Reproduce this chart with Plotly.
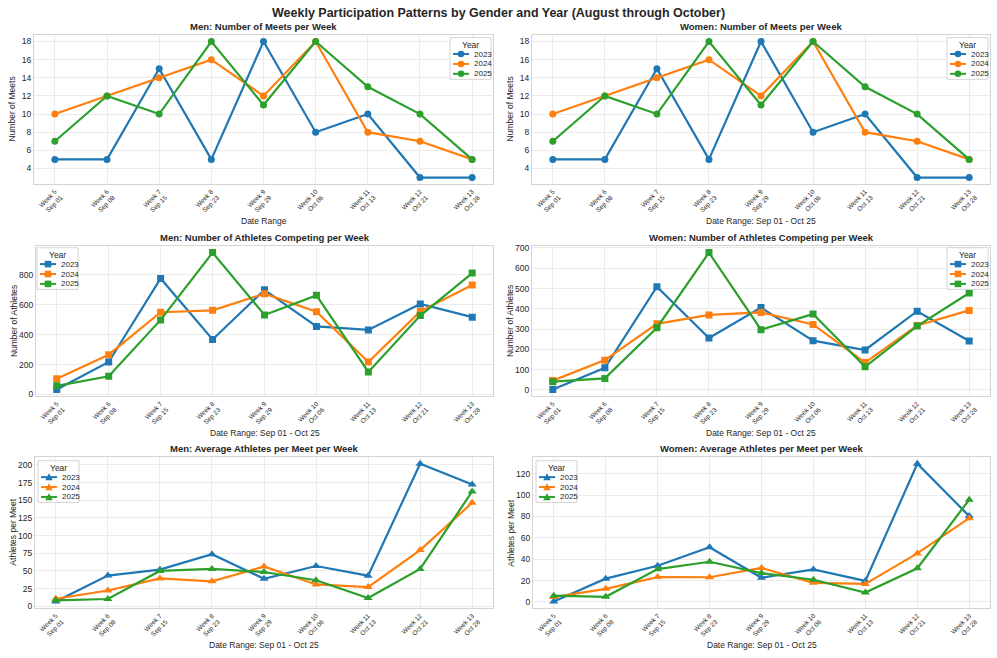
import plotly.graph_objects as go

weeks = ["Week 5<br>Sep 01", "Week 6<br>Sep 08", "Week 7<br>Sep 15", "Week 8<br>Sep 23",
         "Week 9<br>Sep 29", "Week 10<br>Oct 06", "Week 11<br>Oct 13", "Week 12<br>Oct 21",
         "Week 13<br>Oct 28"]
years = ["2023", "2024", "2025"]

men_meets_2023 = [5, 5, 15, 5, 18, 8, 10, 3, 3]
men_meets_2024 = [10, 12, 14, 16, 12, 18, 8, 7, 5]
men_meets_2025 = [7, 12, 10, 18, 11, 18, 13, 10, 5]

women_meets_2023 = [5, 5, 15, 5, 18, 8, 10, 3, 3]
women_meets_2024 = [10, 12, 14, 16, 12, 18, 8, 7, 5]
women_meets_2025 = [7, 12, 10, 18, 11, 18, 13, 10, 5]

men_athletes_2023 = [33, 217, 776, 368, 700, 455, 432, 605, 517]
men_athletes_2024 = [106, 266, 550, 563, 674, 554, 217, 556, 732]
men_athletes_2025 = [58, 122, 499, 949, 532, 663, 151, 528, 812]

women_athletes_2023 = [2, 109, 509, 256, 406, 243, 197, 388, 241]
women_athletes_2024 = [46, 147, 326, 370, 382, 323, 135, 318, 392]
women_athletes_2025 = [41, 57, 307, 677, 297, 374, 114, 315, 478]

men_avg_2023 = [6.6, 43.4, 51.7, 73.6, 38.9, 56.9, 43.2, 201.7, 172.3]
men_avg_2024 = [10.6, 22.2, 39.3, 35.2, 56.2, 30.8, 27.1, 79.4, 146.4]
men_avg_2025 = [8.3, 10.2, 49.9, 52.7, 48.4, 36.8, 11.6, 52.8, 162.4]

women_avg_2023 = [0.4, 21.8, 33.9, 51.2, 22.6, 30.4, 19.7, 129.3, 80.3]
women_avg_2024 = [4.6, 12.3, 23.3, 23.1, 31.8, 17.9, 16.9, 45.4, 78.4]
women_avg_2025 = [5.9, 4.8, 30.7, 37.6, 27.0, 20.8, 8.8, 31.5, 95.6]

colors = ["#1f77b4", "#ff7f0e", "#2ca02c"]
FONT = "Liberation Sans, Arial, sans-serif"
TXT = "#262626"
W, H = 997, 658

# panel pixel boxes: (left, right, top, bottom)
boxes = [
    (34, 493, 32, 183), (532, 990, 32, 183),
    (36, 493, 245, 397), (532, 990, 245, 397),
    (35, 493, 458, 611), (533, 990, 458, 611),
]

panels = [
    ("Men: Number of Meets per Week", [men_meets_2023, men_meets_2024, men_meets_2025],
     "circle", "Number of Meets", "Date Range", 2, (450, 35)),
    ("Women: Number of Meets per Week", [women_meets_2023, women_meets_2024, women_meets_2025],
     "circle", "Number of Meets", "Date Range: Sep 01 - Oct 25", 2, (947, 35)),
    ("Men: Number of Athletes Competing per Week", [men_athletes_2023, men_athletes_2024, men_athletes_2025],
     "square", "Number of Athletes", "Date Range: Sep 01 - Oct 25", 200, (37, 247)),
    ("Women: Number of Athletes Competing per Week", [women_athletes_2023, women_athletes_2024, women_athletes_2025],
     "square", "Number of Athletes", "Date Range: Sep 01 - Oct 25", 100, (947, 247)),
    ("Men: Average Athletes per Meet per Week", [men_avg_2023, men_avg_2024, men_avg_2025],
     "triangle-up", "Athletes per Meet", "Date Range: Sep 01 - Oct 25", 25, (38, 462)),
    ("Women: Average Athletes per Meet per Week", [women_avg_2023, women_avg_2024, women_avg_2025],
     "triangle-up", "Athletes per Meet", "Date Range: Sep 01 - Oct 25", 20, (536, 462)),
]


def px(x):
    return x / W


def py(y):
    return 1 - y / H


fig = go.Figure()
annotations = []
shapes = []
layout = {}

for i, (title, series, sym, ytitle, xtitle, dtick, leg) in enumerate(panels):
    n = i + 1
    xa = "xaxis" if n == 1 else f"xaxis{n}"
    ya = "yaxis" if n == 1 else f"yaxis{n}"
    xr = "x" if n == 1 else f"x{n}"
    yr = "y" if n == 1 else f"y{n}"
    l, r, t, b = boxes[i]
    allv = [v for s in series for v in s]
    lo, hi = min(allv), max(allv)
    pad = 0.05 * (hi - lo)
    for k, s in enumerate(series):
        fig.add_trace(go.Scatter(
            x=weeks, y=s, mode="lines+markers", name=years[k],
            line=dict(color=colors[k], width=2.2),
            marker=dict(symbol=sym, size=7 if sym != "triangle-up" else 8, color=colors[k]),
            xaxis=xr, yaxis=yr, showlegend=False))
    layout[xa] = dict(
        domain=[l / W, r / W], anchor=yr, type="category", range=[-0.4, 8.4],
        tickangle=-45, tickfont=dict(size=6.5, color=TXT, family=FONT),
        showgrid=True, gridcolor="#ebebeb", gridwidth=1,
        showline=True, linecolor="#d4d4d4", linewidth=1.2, mirror=True,
        ticks="", zeroline=False)
    layout[ya] = dict(
        domain=[1 - b / H, 1 - t / H], anchor=xr, range=[lo - pad, hi + pad],
        dtick=dtick, tick0=0, tickfont=dict(size=8.5, color=TXT, family=FONT),
        showgrid=True, gridcolor="#ebebeb", gridwidth=1,
        showline=True, linecolor="#d4d4d4", linewidth=1.2, mirror=True,
        ticks="", zeroline=False)

    # compact legend (matplotlib style)
    lx, ly = leg
    lw, lh = 41, 42
    shapes.append(dict(type="rect", xref="paper", yref="paper",
                       x0=px(lx), x1=px(lx + lw), y0=py(ly + lh), y1=py(ly),
                       fillcolor="rgba(255,255,255,0.85)", line=dict(color="#d4d4d4", width=1),
                       layer="above"))
    annotations.append(dict(text="Year", x=px(lx + lw / 2), y=py(ly + 7), xref="paper", yref="paper",
                            xanchor="center", yanchor="middle", showarrow=False,
                            font=dict(size=8.5, color=TXT, family=FONT)))
    for k in range(3):
        yy = ly + 16.5 + 10 * k
        shapes.append(dict(type="line", xref="paper", yref="paper",
                           x0=px(lx + 3), x1=px(lx + 19), y0=py(yy), y1=py(yy),
                           line=dict(color=colors[k], width=2), layer="above"))
        cx0, rr = lx + 11, 3.3
        if sym == "circle":
            shapes.append(dict(type="circle", xref="paper", yref="paper",
                               x0=px(cx0 - rr), x1=px(cx0 + rr), y0=py(yy + rr), y1=py(yy - rr),
                               fillcolor=colors[k], line=dict(width=0), layer="above"))
        elif sym == "square":
            shapes.append(dict(type="rect", xref="paper", yref="paper",
                               x0=px(cx0 - rr), x1=px(cx0 + rr), y0=py(yy + rr), y1=py(yy - rr),
                               fillcolor=colors[k], line=dict(width=0), layer="above"))
        else:
            path = (f"M {px(cx0 - 3.8)} {py(yy + 3.2)} L {px(cx0 + 3.8)} {py(yy + 3.2)} "
                    f"L {px(cx0)} {py(yy - 3.8)} Z")
            shapes.append(dict(type="path", xref="paper", yref="paper", path=path,
                               fillcolor=colors[k], line=dict(width=0), layer="above"))
        annotations.append(dict(text=years[k], x=px(lx + 22), y=py(yy), xref="paper", yref="paper",
                                xanchor="left", yanchor="middle", showarrow=False,
                                font=dict(size=8, color=TXT, family=FONT)))

    cx = (l + r) / 2 / W
    annotations.append(dict(text=f"<b>{title}</b>", x=cx, y=1 - (t - 8) / H, xref="paper", yref="paper",
                            xanchor="center", yanchor="middle", showarrow=False,
                            font=dict(size=9.5, color=TXT, family=FONT)))
    annotations.append(dict(text=xtitle, x=cx, y=1 - (b + 37) / H, xref="paper", yref="paper",
                            xanchor="center", yanchor="middle", showarrow=False,
                            font=dict(size=8.5, color=TXT, family=FONT)))
    annotations.append(dict(text=ytitle, x=(l - 22) / W, y=1 - (t + b) / 2 / H, xref="paper", yref="paper",
                            xanchor="center", yanchor="middle", showarrow=False, textangle=-90,
                            font=dict(size=8.5, color=TXT, family=FONT)))

annotations.append(dict(text="<b>Weekly Participation Patterns by Gender and Year (August through October)</b>",
                        x=0.5, y=1 - 10 / H, xref="paper", yref="paper", xanchor="center", yanchor="middle",
                        showarrow=False, font=dict(size=12.5, color=TXT, family=FONT)))

fig.update_layout(
    width=W, height=H, margin=dict(l=0, r=0, t=0, b=0),
    paper_bgcolor="white", plot_bgcolor="white",
    font=dict(family=FONT, color=TXT), showlegend=False,
    annotations=annotations, shapes=shapes, **layout)

fig.write_html("out.html", config={"displayModeBar": False},
               post_script="document.body.style.margin='0px';document.body.style.overflow='hidden';")
